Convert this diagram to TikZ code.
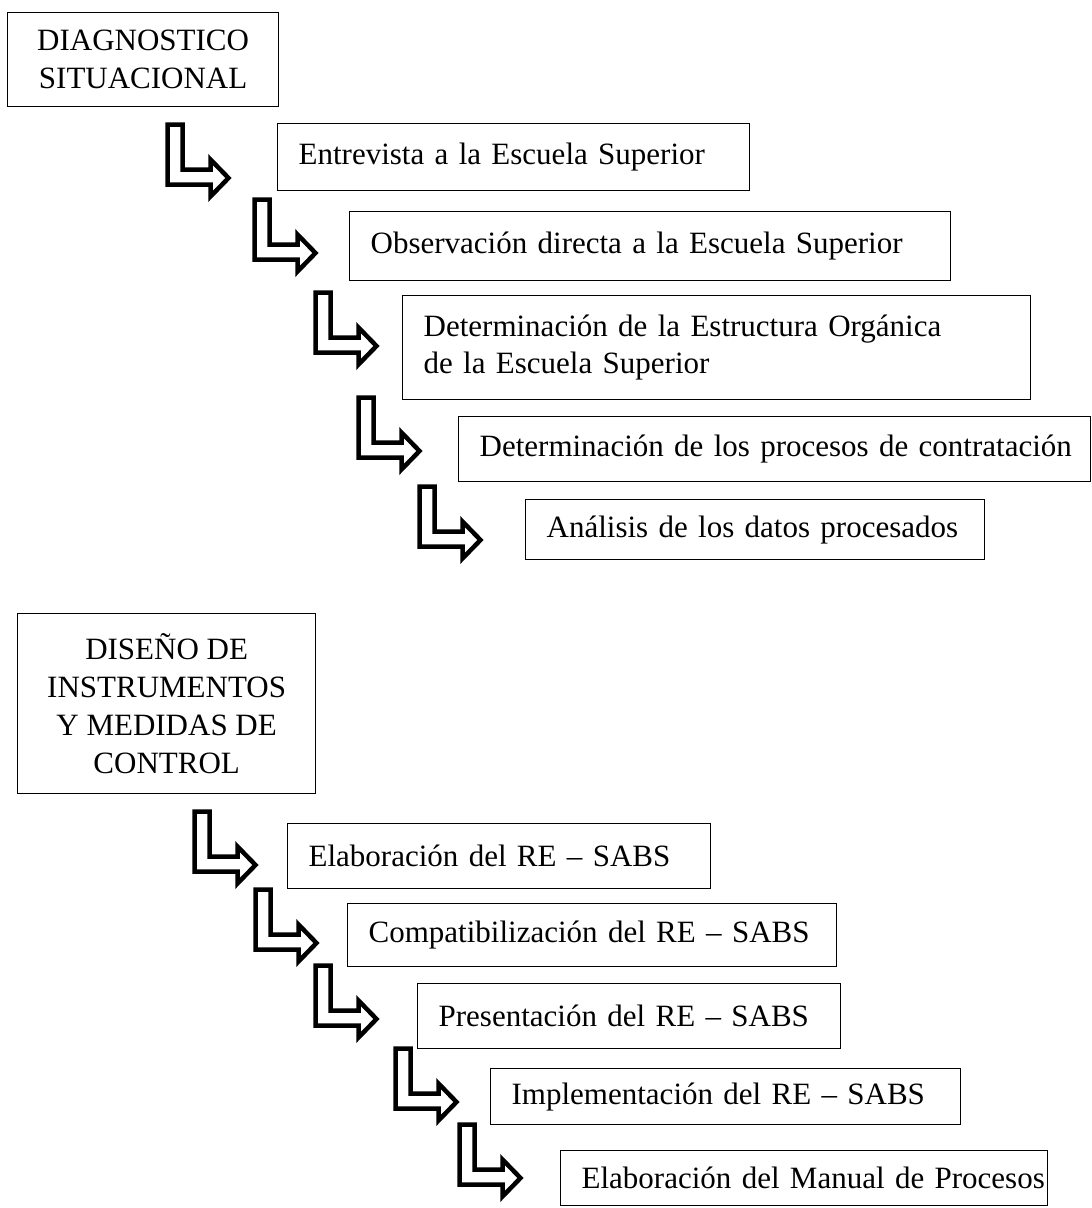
\documentclass[tikz,border=0pt]{standalone}
\usepackage{fontspec}
\setmainfont{Liberation Serif}

\begin{document}
\begin{tikzpicture}[
    x=1pt, y=-1pt,
    font=\fontsize{31}{37.7}\selectfont,
    titlebox/.style={draw, line width=1.3pt, anchor=north west, align=center, inner sep=0pt},
    stepbox/.style={draw, line width=1.3pt, anchor=north west, align=left, inner xsep=21pt, inner ysep=0pt},
    larrow/.pic={
      \draw[line width=4.5pt, line join=miter]
        (2.5,2.5) -- (17.5,2.5) -- (17.5,47.5) -- (45.5,47.5) -- (45.5,37.5)
        -- (63.5,56) -- (45.5,74.5) -- (45.5,62.5) -- (2.5,62.5) -- cycle;
    },
  ]
\useasboundingbox (0,0) rectangle (1092,1208);

% First stage: the situational diagnosis and the steps that feed it,
% each box stepping to the right under the one before.
\node[titlebox, minimum width=271pt, minimum height=94pt] (diag) at (7,12)
  {DIAGNOSTICO\\SITUACIONAL};

\pic at (165,122) {larrow};
\node[stepbox, text width=430pt, minimum height=67pt] (entrevista) at (277,123)
  {Entrevista a la Escuela Superior};
\pic at (252,197) {larrow};
\node[stepbox, text width=559pt, minimum height=69pt] (observacion) at (349,211)
  {Observación directa a la Escuela Superior};
\pic at (313,290) {larrow};
\node[stepbox, text width=586pt, minimum height=104pt] (estructura) at (402,295)
  {Determinación de la Estructura Orgánica\\de la Escuela Superior};
\pic at (356,395) {larrow};
% The longer texts are kept on one line; they run close to the right border.
\node[stepbox, text width=590pt, minimum height=65pt] (contratacion) at (458,416)
  {\mbox{Determinación de los procesos de contratación}};
\pic at (417,484) {larrow};
\node[stepbox, text width=417pt, minimum height=60pt] (analisis) at (525,499)
  {Análisis de los datos procesados};

% Second stage: design of instruments and control measures.
\node[titlebox, minimum width=298pt, minimum height=180pt] (diseno) at (17,613)
  {DISEÑO DE\\INSTRUMENTOS\\Y MEDIDAS DE\\CONTROL};

\pic at (192,809) {larrow};
\node[stepbox, text width=381pt, minimum height=65pt] (elaboracion) at (287,823)
  {Elaboración del RE – SABS};
\pic at (253,887) {larrow};
\node[stepbox, text width=447pt, minimum height=63pt] (compatib) at (347,903)
  {Compatibilización del RE – SABS};
\pic at (313,963) {larrow};
\node[stepbox, text width=381pt, minimum height=65pt] (presentacion) at (417,983)
  {Presentación del RE – SABS};
\pic at (393,1046) {larrow};
\node[stepbox, text width=428pt, minimum height=56pt] (implementacion) at (490,1068)
  {Implementación del RE – SABS};
\pic at (457,1122) {larrow};
\node[stepbox, text width=445pt, minimum height=55pt] (manual) at (560,1150)
  {\mbox{Elaboración del Manual de Procesos}};

\end{tikzpicture}
\end{document}
